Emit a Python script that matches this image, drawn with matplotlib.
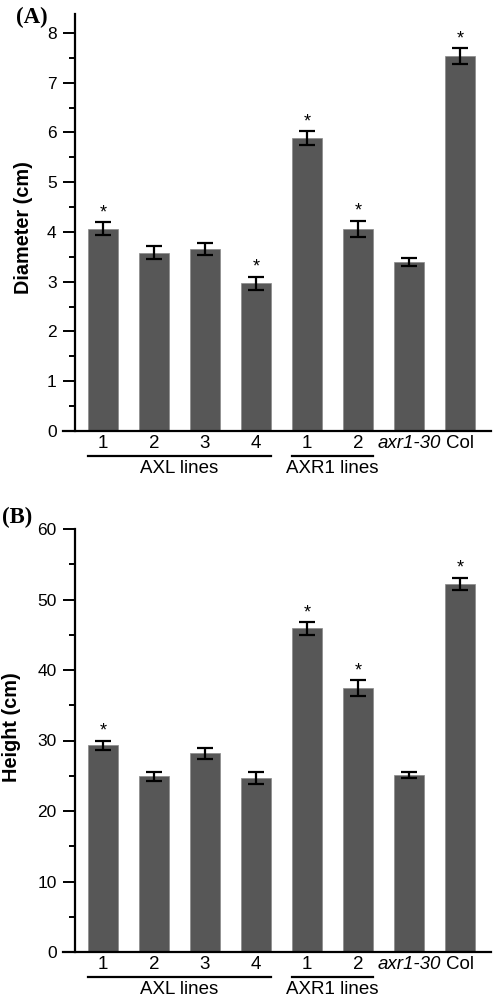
import matplotlib.pyplot as plt
import numpy as np

# data
categories = ["1", "2", "3", "4", "1", "2", "axr1-30", "Col"]
diameter = [4.06, 3.58, 3.66, 2.97, 5.88, 4.06, 3.40, 7.53]
diameter_err = [0.13, 0.13, 0.12, 0.13, 0.14, 0.17, 0.08, 0.16]
diameter_star = [1, 0, 0, 1, 1, 1, 0, 1]
height = [29.3, 24.9, 28.2, 24.7, 45.9, 37.4, 25.1, 52.2]
height_err = [0.7, 0.6, 0.8, 0.9, 0.9, 1.15, 0.4, 0.9]
height_star = [1, 0, 0, 0, 1, 1, 0, 1]
groups = [("AXL lines", 0, 3), ("AXR1 lines", 4, 5)]

plt.rcParams['font.family'] = ['Liberation Sans', 'DejaVu Sans']
DPI = 100
W, H = 497, 1002
fig = plt.figure(figsize=(W / DPI, H / DPI), dpi=DPI)

bar_color = "#575757"
x = np.arange(len(categories))


def px(v):
    # pixels to points
    return v * 72.0 / DPI


def panel(top_px, bottom_px, values, errs, stars, ylim_top, major, minor,
          ylabel, label_xy, tag, tag_xy):
    left_px, right_px = 63, 491
    ax = fig.add_axes([left_px / W, 1 - bottom_px / H,
                       (right_px - left_px) / W, (bottom_px - top_px) / H])
    ax.bar(x, values, width=0.59, color=bar_color, edgecolor="#8a8a8a", linewidth=0.5, zorder=2)
    ax.errorbar(x, values, yerr=errs, fmt="none", ecolor="black", elinewidth=1.6,
                capsize=6, capthick=1.6, zorder=3)
    for xi, v, e, s in zip(x, values, errs, stars):
        if s:
            ax.annotate("*", (xi, v + e), xytext=(0, px(1)), textcoords="offset points",
                        ha="center", va="bottom", fontsize=13)

    ax.set_xlim(-0.78, 7.6)
    ax.set_ylim(0, ylim_top)
    ax.spines["top"].set_visible(False)
    ax.spines["right"].set_visible(False)
    ax.spines["left"].set_position(("data", -0.55))
    ax.spines["left"].set_bounds(0, ylim_top)
    ax.spines["left"].set_linewidth(1.6)
    ax.spines["bottom"].set_linewidth(1.6)

    ax.set_yticks(np.arange(0, ylim_top + 0.01, major))
    ax.set_yticks(np.arange(0, ylim_top + 0.01, minor), minor=True)
    ax.tick_params(axis="y", which="major", direction="out", length=px(12), width=1.4,
                   pad=px(6), labelsize=12.5)
    ax.tick_params(axis="y", which="minor", direction="out", length=px(6), width=1.4)

    ax.set_xticks(x)
    ax.set_xticklabels(categories)
    ax.tick_params(axis="x", length=0, pad=px(4), labelsize=13.5)
    ax.get_xticklabels()[6].set_style("italic")

    ax.set_ylabel(ylabel, fontsize=14.3, fontweight="bold")
    ax.yaxis.set_label_coords(*label_xy)

    hpx = bottom_px - top_px
    for name, a, b in groups:
        ax.plot([a - 0.29, b + 0.29], [-25 / hpx, -25 / hpx], color="black", lw=1.6,
                transform=ax.get_xaxis_transform(), clip_on=False)
        ax.text((a + b) / 2, -38 / hpx, name, transform=ax.get_xaxis_transform(),
                ha="center", va="center", fontsize=13.5)

    fig.text(tag_xy[0] / W, 1 - tag_xy[1] / H, tag, fontsize=16.5, fontweight="bold",
             family="Liberation Serif", ha="left", va="center")
    return ax


panel(14, 431, diameter, diameter_err, diameter_star, 8.38, 1, 0.5,
      "Diameter (cm)", (-0.071, 0.487), "(A)", (16, 17))
panel(529, 952, height, height_err, height_star, 60, 10, 5,
      "Height (cm)", (-0.097, 0.532), "(B)", (2, 517))

fig.savefig("out.png", dpi=DPI)
